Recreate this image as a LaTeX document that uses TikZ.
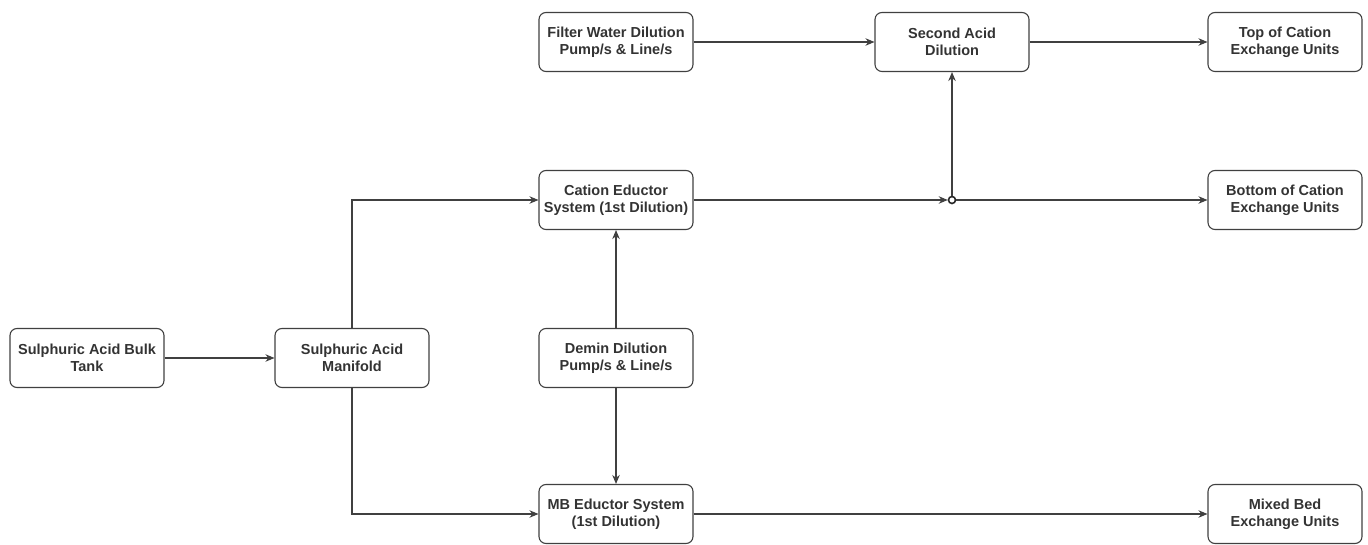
\documentclass[tikz,border=0pt]{standalone}
\usepackage{fontspec}
\setmainfont{Liberation Sans}
\usetikzlibrary{arrows.meta,positioning,calc}

\begin{document}
\begin{tikzpicture}
[x=1pt,y=-1pt,>={Stealth[length=9pt,width=7.5pt]},line width=1.1pt,
box/.style = {draw=black!75, rounded corners=7pt, minimum width=154pt, minimum height=59pt, align=center, text=black!80, font=\fontsize{14.5}{17}\selectfont\bfseries},
link/.style = {draw=black!75, ->},
joint/.style = {draw=black!85, circle, inner sep=0pt, minimum size=7pt, line width=1.6pt},]
\useasboundingbox (0,0) rectangle (1368,545);
\node (tank) at (87,358)[box] {Sulphuric Acid Bulk\\Tank};
\node (manifold) at (352,358)[box] {Sulphuric Acid\\Manifold};
\node (filter) at (616,42)[box] {Filter Water Dilution\\Pump/s \& Line/s};
\node (second) at (952,42)[box] {Second Acid\\Dilution};
\node (top) at (1285,42)[box] {Top of Cation\\Exchange Units};
\node (cation) at (616,200)[box] {Cation Eductor\\System (1st Dilution)};
\node (bottom) at (1285,200)[box] {Bottom of Cation\\Exchange Units};
\node (demin) at (616,358)[box] {Demin Dilution\\Pump/s \& Line/s};
\node (mb) at (616,514)[box] {MB Eductor System\\(1st Dilution)};
\node (mixed) at (1285,514)[box] {Mixed Bed\\Exchange Units};
\node (J) at (952,200)[joint] {};
\draw[link] (tank)--(manifold);
\draw[link] (manifold.north)|-(cation.west);
\draw[link] (manifold.south)|-(mb.west);
\draw[link] (demin)--(cation);
\draw[link] (demin)--(mb);
\draw[link] (filter)--(second);
\draw[link] (second)--(top);
\draw[link] (cation)--(J);
\draw[link] (J)--(bottom);
\draw[link] (J)--(second);
\draw[link] (mb)--(mixed);



\end{tikzpicture}
\end{document}
